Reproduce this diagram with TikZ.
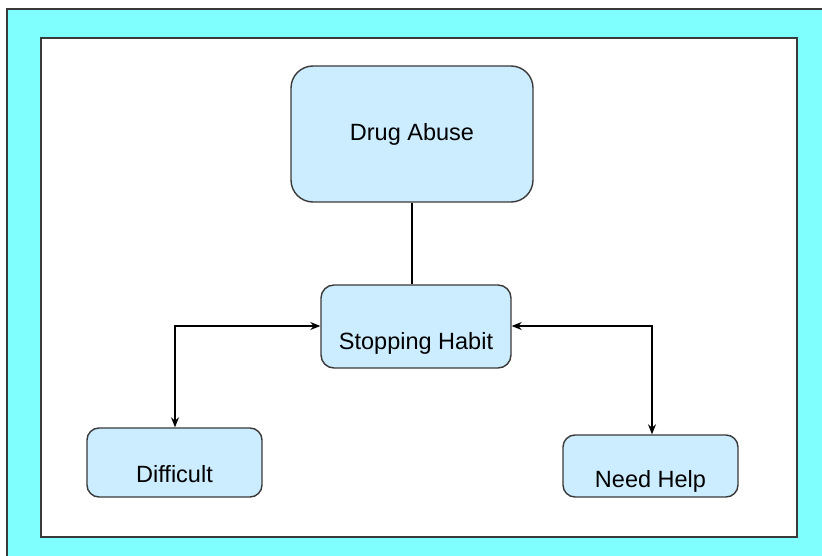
\documentclass[tikz,border=0pt]{standalone}
\usepackage{fontspec}
\setmainfont{Liberation Sans}
\usetikzlibrary{arrows.meta}
\definecolor{framecyan}{HTML}{80FFFF}
\definecolor{boxfill}{HTML}{CCECFF}
\definecolor{edge}{HTML}{3A3A3A}
\tikzset{
  box/.style={draw=edge, fill=boxfill, line width=1.4pt, inner sep=0pt,
    font=\fontsize{23.5}{28}\selectfont, text=black},
  link/.style={draw=black, line width=1.2pt},
  tips/.style={{Stealth[length=10pt,width=8pt]}-{Stealth[length=10pt,width=8pt]}}
}
\begin{document}
\begin{tikzpicture}[x=1pt,y=-1pt]
\useasboundingbox (0,0) rectangle (822,556);
% cyan frame, running off the right and bottom edges
\fill[framecyan] (7,9) rectangle (822,556);
\draw[edge, line width=2pt] (822,9) -- (7,9) -- (7,556);
% white drawing area
\draw[edge, fill=white, line width=2pt] (41,38) rectangle (797,537);

% boxes
\node[box, rounded corners=22pt, minimum width=242pt, minimum height=136pt]
  (drug) at (412,134) {Drug Abuse};
\node[box, rounded corners=13pt, minimum width=190pt, minimum height=83pt,
  text height=45pt, text depth=0pt] (stop) at (416,326.5) {Stopping Habit};
\node[box, rounded corners=12pt, minimum width=175pt, minimum height=69pt,
  text height=39pt, text depth=0pt] (diff) at (174.5,462.5) {Difficult};
\node[box, rounded corners=12pt, minimum width=175pt, minimum height=62pt,
  text height=42pt, text depth=0pt] (help) at (650.5,466) {Need Help};

% connectors
\draw[link] (drug.south -| 412,0) -- (stop.north -| 412,0);
\coordinate (lk) at (175,326);
\coordinate (rk) at (652,326);
\draw[link, tips] (stop.west |- lk) -- (lk) -- (diff.north -| lk);
\draw[link, tips] (stop.east |- rk) -- (rk) -- (help.north -| rk);
\end{tikzpicture}
\end{document}
